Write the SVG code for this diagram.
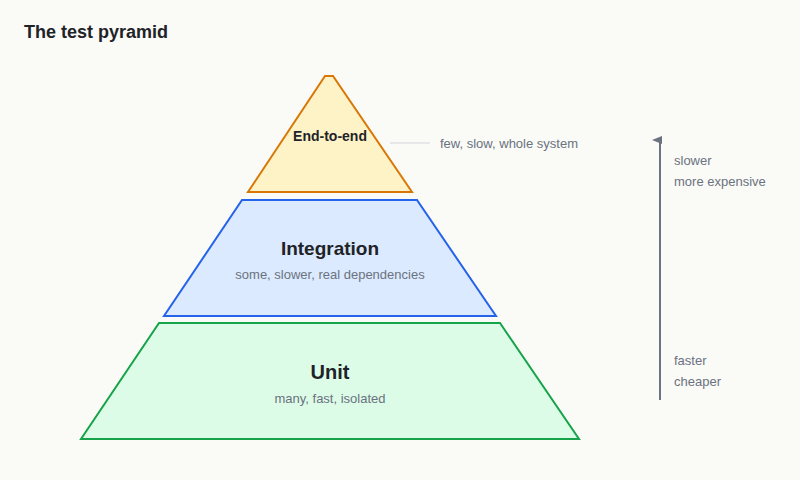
<svg xmlns="http://www.w3.org/2000/svg" width="800" height="480" viewBox="0 0 800 480">
<style>
text{font-family:"Liberation Sans",Arial,sans-serif}
.t{font-weight:bold;fill:#1f2328;text-anchor:middle}
.s{font-size:13px;fill:#6b7280}
</style>
<defs><marker id="ah" markerWidth="10" markerHeight="10" refX="5" refY="8" orient="auto" markerUnits="userSpaceOnUse"><path d="M1,10 L5,0 L9,10 Z" fill="#6b7280"/></marker></defs>
<rect width="800" height="480" fill="#fafaf7"/>
<text x="24" y="38" font-size="18" font-weight="bold" fill="#1f2328">The test pyramid</text>
<g id="unit"><polygon points="159,323 500,323 579,439 81,439" fill="#dcfce7" stroke="#16a34a" stroke-width="2"/>
<text class="t" x="330" y="379" font-size="20">Unit</text><text class="s" x="330" y="403" text-anchor="middle">many, fast, isolated</text></g>
<g id="integration"><polygon points="242,200 417,200 496,316 164,316" fill="#dbeafe" stroke="#2563eb" stroke-width="2"/>
<text class="t" x="330" y="255" font-size="19">Integration</text><text class="s" x="330" y="279" text-anchor="middle">some, slower, real dependencies</text></g>
<g id="e2e"><polygon points="325,76 333,76 412,192 248,192" fill="#fef3c7" stroke="#d97706" stroke-width="2"/>
<text class="t" x="330" y="141" font-size="14">End-to-end</text></g>
<g id="connectors">
<line x1="390" y1="143" x2="430" y2="143" stroke="#d1d5db" stroke-width="1"/>
<line x1="660" y1="400" x2="660" y2="140" stroke="#6b7280" stroke-width="2" marker-end="url(#ah)"/>
</g>
<text class="s" x="440" y="148">few, slow, whole system</text>
<text class="s" x="674" y="165">slower</text><text class="s" x="674" y="186">more expensive</text>
<text class="s" x="674" y="365">faster</text><text class="s" x="674" y="386">cheaper</text>
</svg>
